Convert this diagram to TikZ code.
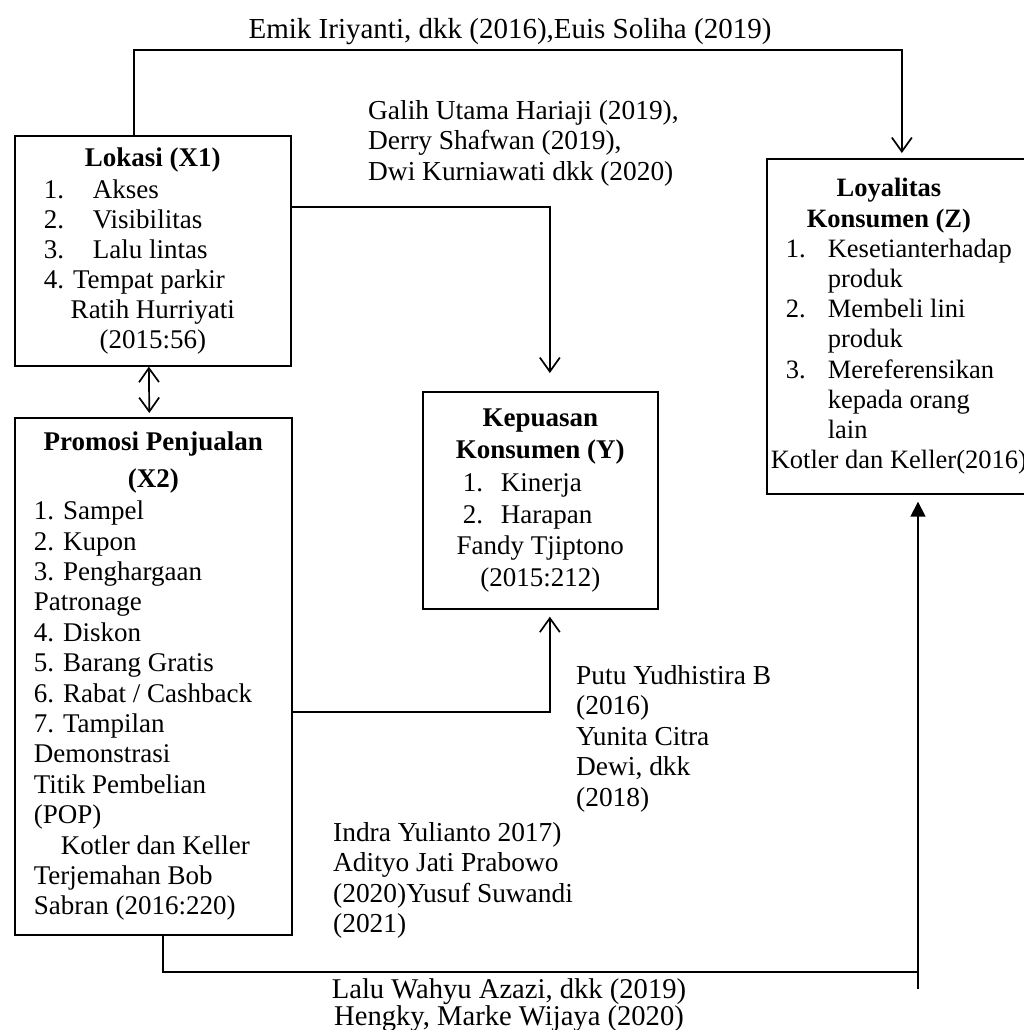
\documentclass[tikz,border=0pt]{standalone}
\usepackage{fontspec}
\setmainfont{Liberation Serif}
\usetikzlibrary{arrows.meta}
\setlength{\parindent}{0pt}

\tikzset{kotak/.style = {draw, line width=1.7pt, anchor=north west,
                         inner sep=0pt, align=flush left,
                         font=\fontsize{27}{#1}\selectfont},
         kotak/.default=30pt,
         sumber/.style = {inner sep=0pt, align=flush left, anchor=north west,
                          font=\fontsize{27.4}{30.5}\selectfont},
         garis/.style = {line width=1.7pt},
         panah/.style = {garis, -{Straight Barb[length=14pt,width=20pt]}},
         panah2/.style = {garis, {Straight Barb[length=14pt,width=20pt]}-{Straight Barb[length=14pt,width=20pt]}},
         panahisi/.style = {garis, -{Triangle[length=15pt,width=15pt]}}
        }

\begin{document}
\begin{tikzpicture}[x=1pt, y=-1pt]
  \useasboundingbox (0,0) rectangle (1023,1030);

  % variabel
  \node[kotak, text width=276pt, minimum height=230pt] (lokasi) at (14,135) {%
    {\centering\bfseries Lokasi (X1)\par}
    \vspace{2pt}
    \leftskip=29pt
    \makebox[49pt][l]{1.}Akses\par
    \makebox[49pt][l]{2.}Visibilitas\par
    \makebox[49pt][l]{3.}Lalu lintas\par
    4. Tempat parkir\par
    {\centering Ratih Hurriyati\par (2015:56)\par}
    \vspace{-15pt}};

  \node[kotak=30.4pt, text width=277pt, minimum height=517pt] (promosi) at (14,417) {%
    {\centering\bfseries Promosi Penjualan\par\vspace{6.6pt}(X2)\par}
    \vspace{1.6pt}
    \leftskip=19pt
    1. Sampel\par
    2. Kupon\par
    3. Penghargaan\par
    Patronage\par
    4. Diskon\par
    5. Barang Gratis\par
    6. Rabat / Cashback\par
    7. Tampilan\par
    Demonstrasi\par
    Titik Pembelian\par
    (POP)\par
    \hspace*{27pt}Kotler dan Keller\par
    Terjemahan Bob\par
    Sabran (2016:220)\par};

  \node[kotak=31.5pt, text width=235pt, minimum height=217pt] (kepuasan) at (422,391) {%
    {\centering\bfseries Kepuasan\par Konsumen (Y)\par}
    \vspace{2pt}
    \leftskip=40pt
    \makebox[38pt][l]{1.}Kinerja\par
    \makebox[38pt][l]{2.}Harapan\par
    {\centering Fandy Tjiptono\par (2015:212)\par}
    \vspace{-6pt}};

  \node[kotak, font=\fontsize{26.5}{30.2}\selectfont, text width=270pt, minimum height=335pt] (loyalitas) at (766,158) {%
    {\centering\bfseries Loyalitas\hspace*{26pt}\par Konsumen (Z)\hspace*{26pt}\par}
    \leftskip=61pt
    \hspace*{-42pt}\makebox[42pt][l]{1.}Kesetianterhadap\par
    produk\par
    \hspace*{-42pt}\makebox[42pt][l]{2.}Membeli lini\par
    produk\par
    \hspace*{-42pt}\makebox[42pt][l]{3.}Mereferensikan\par
    kepada orang\par
    lain\par
    \leftskip=4pt Kotler dan Keller(2016)\par};

  % penelitian terdahulu
  \node[sumber, anchor=north, font=\fontsize{29}{30}\selectfont] (s1) at (510,18)
       {Emik Iriyanti, dkk (2016),Euis Soliha (2019)};
  \node[sumber] (s2) at (368,100) {Galih Utama Hariaji (2019),\\Derry Shafwan (2019),\\Dwi Kurniawati dkk (2020)};
  \node[sumber] (s3) at (576,665) {Putu Yudhistira B\\(2016)\\Yunita Citra\\Dewi, dkk\\(2018)};
  \node[sumber] (s4) at (333,822) {Indra Yulianto 2017)\\Adityo Jati Prabowo\\(2020)Yusuf Suwandi\\(2021)};
  \node[sumber, anchor=north, align=center, font=\fontsize{28.6}{27.5}\selectfont] (s5) at (509,978)
       {Lalu Wahyu Azazi, dkk (2019)\\Hengky, Marke Wijaya (2020)};

  % hubungan
  \draw[panah, shorten >=5pt] ([xshift=-19pt]lokasi.north) -- ++(0,-85) -| (loyalitas.north);
  \draw[panah, shorten >=18pt] ([yshift=44pt]lokasi.east) -| ([xshift=9.5pt]kepuasan.north);
  \draw[panah, shorten >=7pt] ([yshift=-35.5pt]promosi.east) -| ([xshift=9.5pt]kepuasan.south);
  \draw[panah2, shorten >=4pt] ([xshift=-4pt]lokasi.south) -- ([xshift=-4pt]promosi.north);
  \coordinate (ujung) at (918,989);
  \draw[garis] ([xshift=9.5pt]promosi.south) |- (ujung |- 0,972);
  \draw[panahisi, shorten >=7pt] (ujung) -- (ujung |- loyalitas.south);
\end{tikzpicture}
\end{document}
